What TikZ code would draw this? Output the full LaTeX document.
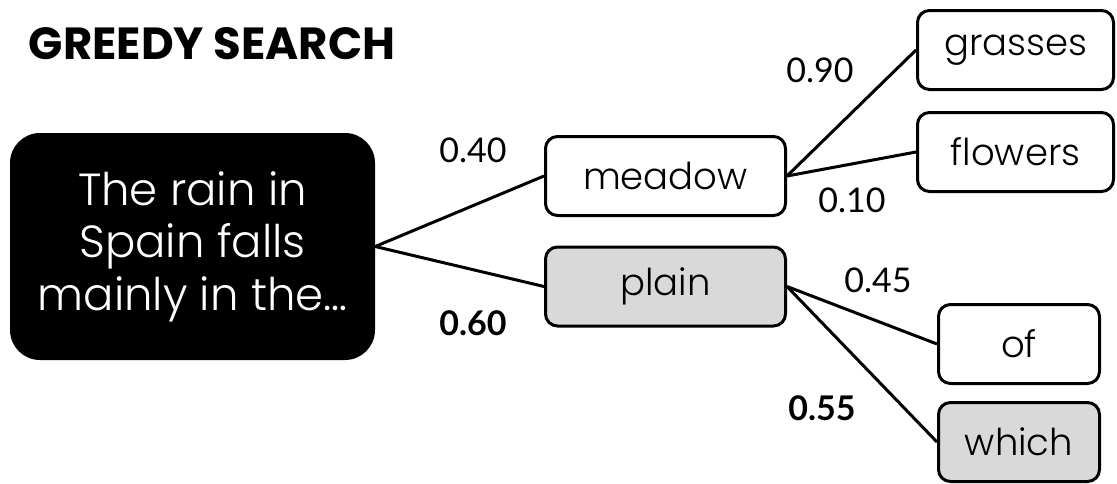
\documentclass[tikz,border=0pt]{standalone}
\usepackage{fontspec}
\setmainfont{Poppins}
\newfontfamily\thinfont{Poppins Light}
\newfontfamily\probfont{Lato}
\usetikzlibrary{positioning}
\definecolor{TokenGrey}{HTML}{D9D9D9}
\definecolor{PromptBlack}{HTML}{000000}

\begin{document}
\begin{tikzpicture}[x=1pt,y=-1pt,
  token/.style={draw,line width=3pt,rounded corners=12pt,minimum height=79pt,
    inner sep=0pt,font=\thinfont\fontsize{37}{42}\selectfont},
  picked/.style={token,fill=TokenGrey},
  prob/.style={font=\probfont\fontsize{34}{38}\selectfont},
  bestprob/.style={font=\probfont\fontsize{34}{38}\selectfont\bfseries},
  link/.style={line width=3pt}]
  \useasboundingbox (0,0) rectangle (1117,483);
  \node[font=\fontsize{45}{50}\selectfont\bfseries] (title) at (212,44) {GREEDY SEARCH};
  \node[fill=PromptBlack,rounded corners=30pt,minimum width=365pt,minimum height=227pt,
    text=white,align=center,font=\thinfont\fontsize{45}{52.5}\selectfont] (prompt) at (192.5,246.5)
    {The rain in\\Spain falls\\mainly in the\dots};
  \node[token,minimum width=240pt] (meadow) at (665.5,176) {meadow};
  \node[picked,minimum width=240pt] (plain) at (665.5,286.5) {plain};
  \node[token,minimum width=196pt] (grasses) at (1015.5,50) {grasses};
  \node[token,minimum width=196pt] (flowers) at (1015.5,152) {flowers};
  \node[token,minimum width=161pt] (of) at (1019,344) {of};
  \node[picked,minimum width=161pt] (which) at (1019,442) {which};
  \draw[link] (prompt.east) -- (meadow.west);
  \draw[link] (prompt.east) -- (plain.west);
  \draw[link] (meadow.east) -- (grasses.west);
  \draw[link] (meadow.east) -- (flowers.west);
  \draw[link] (plain.east) -- (of.west);
  \draw[link] (plain.east) -- (which.west);
  \node[prob] (p40) at (473,150) {0.40};
  \node[bestprob] (p60) at (473,323) {0.60};
  \node[prob] (p90) at (820,70) {0.90};
  \node[prob] (p10) at (852,200) {0.10};
  \node[prob] (p45) at (878,280) {0.45};
  \node[bestprob] (p55) at (822,408) {0.55};
\end{tikzpicture}
\end{document}
